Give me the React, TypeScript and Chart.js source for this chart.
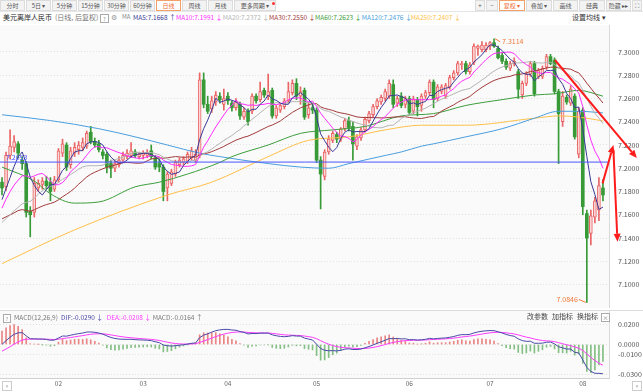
import React, { useEffect, useRef } from 'react';
import { Chart, registerables } from 'chart.js';
Chart.register(...registerables);

// ---------- DATA ----------
const opens = [7.188,7.184,7.211,7.218,7.221,7.207,7.204,7.163,7.162,7.183,7.186,7.189,7.188,7.182,
7.190,7.213,7.220,7.203,7.213,7.216,7.218,7.219,7.231,7.223,7.221,7.214,7.212,7.204,7.200,7.203,7.207,7.210,7.211,7.214,7.210,
7.211,7.211,7.215,7.209,7.204,7.201,7.183,7.187,7.195,7.203,7.205,7.206,7.209,7.207,7.211,7.276,7.255,7.251,7.257,7.262,7.255,
7.262,7.256,7.252,7.255,7.244,7.249,7.249,7.262,7.259,7.267,7.262,7.267,7.245,7.250,7.253,7.258,7.265,7.273,7.262,7.267,7.246,7.252,
7.250,7.207,7.193,7.214,7.224,7.229,7.225,7.234,7.241,7.236,7.219,7.226,7.233,7.241,7.246,7.253,7.257,7.260,7.262,7.272,7.256,7.262,7.255,
7.260,7.249,7.259,7.254,7.262,7.265,7.274,7.260,7.266,7.262,7.270,7.278,7.282,7.289,7.290,7.283,7.291,7.303,7.302,7.302,
7.305,7.308,7.303,7.297,7.292,7.286,7.290,7.283,7.263,7.273,7.281,7.290,7.279,7.279,7.287,7.296,7.293,7.266,7.240,7.261,7.256,7.262,7.212,
7.250,7.161,7.144,7.158,7.164,7.183];
const highs = [7.192,7.214,7.233,7.228,7.223,7.210,7.206,7.167,7.192,7.190,7.192,7.193,7.192,7.193,
7.217,7.225,7.222,7.218,7.222,7.223,7.226,7.232,7.236,7.226,7.224,7.216,7.214,7.207,7.206,7.210,7.214,7.216,7.222,7.216,7.214,
7.215,7.216,7.220,7.211,7.208,7.203,7.197,7.199,7.207,7.209,7.210,7.214,7.218,7.216,7.282,7.282,7.262,7.262,7.266,7.265,7.268,
7.265,7.258,7.260,7.257,7.252,7.251,7.264,7.264,7.274,7.269,7.281,7.269,7.254,7.256,7.260,7.274,7.276,7.277,7.270,7.269,7.256,7.255,
7.252,7.210,7.216,7.228,7.232,7.231,7.235,7.243,7.244,7.240,7.229,7.235,7.244,7.249,7.255,7.260,7.263,7.268,7.276,7.276,7.262,7.265,7.262,
7.262,7.262,7.261,7.264,7.267,7.276,7.276,7.272,7.272,7.273,7.280,7.284,7.292,7.292,7.292,7.291,7.307,7.306,7.309,7.308,
7.309,7.3114,7.305,7.299,7.294,7.292,7.295,7.285,7.275,7.283,7.292,7.292,7.286,7.288,7.298,7.298,7.295,7.268,7.266,7.263,7.271,7.264,7.252,
7.252,7.164,7.164,7.175,7.192,7.190];
const lows = [7.177,7.181,7.208,7.214,7.209,7.199,7.158,7.141,7.158,7.180,7.182,7.182,7.172,7.180,
7.188,7.210,7.198,7.200,7.210,7.212,7.215,7.217,7.221,7.218,7.214,7.208,7.196,7.192,7.197,7.201,7.205,7.208,7.209,7.209,7.208,
7.208,7.209,7.208,7.199,7.197,7.172,7.172,7.185,7.193,7.201,7.203,7.204,7.207,7.205,7.209,7.252,7.247,7.248,7.254,7.256,7.250,
7.255,7.249,7.250,7.242,7.242,7.237,7.247,7.256,7.257,7.261,7.259,7.243,7.243,7.248,7.251,7.256,7.263,7.259,7.255,7.242,7.243,7.247,
7.205,7.165,7.190,7.212,7.222,7.222,7.223,7.232,7.232,7.207,7.216,7.224,7.231,7.239,7.244,7.251,7.255,7.258,7.260,7.252,7.253,7.252,7.252,
7.246,7.247,7.245,7.249,7.260,7.263,7.252,7.258,7.264,7.260,7.268,7.276,7.280,7.285,7.281,7.281,7.289,7.297,7.300,7.300,
7.302,7.304,7.294,7.290,7.285,7.284,7.288,7.260,7.260,7.271,7.279,7.262,7.277,7.277,7.285,7.289,7.264,7.204,7.236,7.255,7.254,7.225,7.209,
7.160,7.0846,7.134,7.153,7.155,7.172];
const closes = [7.183,7.211,7.219,7.223,7.213,7.204,7.162,7.160,7.187,7.187,7.189,7.185,7.180,7.190,
7.215,7.221,7.201,7.215,7.218,7.220,7.222,7.230,7.223,7.220,7.216,7.211,7.201,7.200,7.204,7.207,7.211,7.213,7.215,7.211,7.212,
7.213,7.213,7.210,7.201,7.201,7.180,7.195,7.197,7.205,7.207,7.208,7.212,7.215,7.212,7.276,7.255,7.249,7.258,7.263,7.259,7.260,
7.258,7.252,7.257,7.245,7.249,7.240,7.262,7.258,7.266,7.263,7.266,7.245,7.252,7.254,7.258,7.266,7.273,7.262,7.266,7.244,7.252,7.250,
7.207,7.195,7.214,7.225,7.230,7.225,7.234,7.241,7.235,7.221,7.227,7.233,7.242,7.247,7.253,7.258,7.261,7.266,7.273,7.255,7.260,7.254,7.260,
7.248,7.259,7.253,7.262,7.265,7.274,7.259,7.270,7.270,7.271,7.278,7.282,7.290,7.290,7.283,7.289,7.305,7.305,7.306,7.306,
7.308,7.305,7.295,7.292,7.287,7.290,7.292,7.268,7.273,7.281,7.290,7.264,7.284,7.286,7.296,7.290,7.266,7.247,7.262,7.257,7.268,7.227,7.249,
7.167,7.140,7.159,7.172,7.185,7.177];
// closes before the window (warm-up for moving averages and MACD)
const priorCloses = [7.338,7.325,7.300,7.291,7.293,7.291,7.293,7.298,7.297,7.254,7.257,7.262,7.210,7.175,7.151,7.165,7.155,7.147,7.140,7.128,7.108,7.135,
7.145,7.158,7.170,7.170,7.155,7.178,7.185,7.180,7.150,7.135,7.145,7.145,7.153,7.155,7.153,7.145,7.135,7.143,7.132,7.118,7.132,
7.133,7.155,7.167,7.170,7.167,7.163,7.172,7.175,7.172];
const ma60Points = [[0,7.201],[8,7.189],[12,7.178],[18,7.170],[24,7.171],[33,7.184],[39,7.188],[46,7.195],[54,7.205],[57,7.210],[66,7.220],[74,7.230],[82,7.233],[90,7.236],[99,7.245],[107,7.247],[115,7.254],[124,7.259],[132,7.263],[137,7.264],[143,7.267],[149,7.262]];
const ma120Points = [[0,7.246],[12,7.241],[24,7.234],[33,7.227],[41,7.220],[49,7.213],[54,7.210],[66,7.204],[74,7.201],[81,7.200],[86,7.204],[95,7.211],[99,7.214],[104,7.219],[107,7.221],[115,7.227],[124,7.234],[132,7.243],[138,7.249],[143,7.249],[149,7.2476]];
const ma250Points = [[0,7.118],[18,7.147],[41,7.177],[52,7.188],[66,7.210],[76,7.224],[86,7.227],[95,7.233],[104,7.237],[115,7.237],[132,7.243],[138,7.245],[143,7.244],[149,7.2407]];
const monthTickIndex = [14, 35, 56, 78, 101, 121, 144];
const monthTickLabels = ['02', '03', '04', '05', '06', '07', '08'];
const priceTicks = [7.1, 7.12, 7.14, 7.16, 7.18, 7.2, 7.22, 7.24, 7.26, 7.28, 7.3];
const macdTicks = [0.02, 0, -0.01, -0.03];
const refLevel = 7.2053;
const maNames = ['MA5', 'MA10', 'MA20', 'MA30', 'MA60', 'MA120', 'MA250'];
const maHeaderValues = ['7.1668', '7.1991', '7.2372', '7.2550', '7.2623', '7.2476', '7.2407'];
const maArrows = ['↑', '↓', '↓', '↓', '↓', '↓', '↓'];
const macdHeader = [['DIF', '-0.0290', '↓'], ['DEA', '-0.0208', '↓'], ['MACD', '-0.0164', '↑']];
// hand-drawn arrows, in (candle index, price) coordinates
const arrowFrom = [[137.1, 7.2931], [148.9, 7.1870], [151.6, 7.2157]];
const arrowTo = [[157.4, 7.2088], [151.6, 7.2200], [152.6, 7.1368]];
const tabs = ['分时', '5日 ▾', '5分钟', '15分钟', '30分钟', '60分钟', '日线', '周线', '月线', '更多周期 ▾'];
const rightButtons = ['+', '−', '复权 ▾', '叠加 ▾', '画线', '经典', '隐藏 ▸▸', '⛶'];

// ---------- STYLE ----------
const FONT = '"Noto Sans CJK SC", "Noto Sans", sans-serif';
const maColors = ['#3a3a96', '#ff2cff', '#b4b4b4', '#a33a3a', '#3d9e3d', '#4a9fe0', '#ffc04a'];
const UP_FILL = '#fbd6d6';
const UP_LINE = '#e96464';
const DOWN = '#379a37';
const AXIS_W = 34;
const N_SLOTS = closes.length + 1;

const full = [...priorCloses, ...closes];
const P = priorCloses.length;
function movingAvg(n: number) {
  return closes.map((_, i) => {
    const end = P + i;
    let s = 0;
    for (let k = end - n + 1; k <= end; k++) s += full[k];
    return { x: i, y: s / n };
  });
}
function macdSeries() {
  let e12 = full[0], e26 = full[0];
  const dif: number[] = [];
  full.forEach((c, k) => {
    if (k > 0) { e12 += (c - e12) * 2 / 13; e26 += (c - e26) * 2 / 27; }
    dif.push(e12 - e26);
  });
  let d = dif[0];
  const dea: number[] = [];
  dif.forEach((v, k) => { if (k > 0) d += (v - d) * 2 / 10; dea.push(d); });
  const difW = dif.slice(P), deaW = dea.slice(P);
  return { dif: difW, dea: deaW, hist: difW.map((v, i) => 2 * (v - deaW[i])) };
}

const fixAxis = (s: any) => { s.width = AXIS_W; s.paddingTop = 0; s.paddingBottom = 0; };

const bgPlugin = {
  id: 'plotBg',
  beforeDraw(chart: any) {
    const { ctx, chartArea: a } = chart;
    ctx.save();
    ctx.fillStyle = '#fafafa';
    ctx.fillRect(a.left, a.top, a.right - a.left, a.bottom - a.top);
    ctx.restore();
  },
};

function drawArrow(ctx: CanvasRenderingContext2D, x1: number, y1: number, x2: number, y2: number) {
  const ang = Math.atan2(y2 - y1, x2 - x1);
  const L = 8, Wd = 3.5;
  const bx = x2 - L * Math.cos(ang), by = y2 - L * Math.sin(ang);
  ctx.beginPath();
  ctx.moveTo(x1, y1);
  ctx.lineTo(bx, by);
  ctx.stroke();
  ctx.beginPath();
  ctx.moveTo(x2, y2);
  ctx.lineTo(bx + Wd * Math.sin(ang), by - Wd * Math.cos(ang));
  ctx.lineTo(bx - Wd * Math.sin(ang), by + Wd * Math.cos(ang));
  ctx.closePath();
  ctx.fill();
}

const annotPlugin = {
  id: 'annot',
  afterDraw(chart: any) {
    const { ctx, chartArea: a } = chart;
    const x = chart.scales.x, y = chart.scales.y;
    ctx.save();
    // reference level label
    ctx.font = `7px ${FONT}`;
    ctx.fillStyle = '#4a55ff';
    ctx.textBaseline = 'bottom';
    ctx.textAlign = 'left';
    ctx.fillText(refLevel.toFixed(4), a.left + 6, y.getPixelForValue(refLevel) - 1);
    // highest / lowest markers
    let hi = 0, lo = 0;
    highs.forEach((h, i) => { if (h > highs[hi]) hi = i; });
    lows.forEach((l, i) => { if (l < lows[lo]) lo = i; });
    ctx.strokeStyle = '#f07a3a';
    ctx.fillStyle = '#f07a3a';
    ctx.lineWidth = 1;
    ctx.textBaseline = 'middle';
    const hx = x.getPixelForValue(hi), hy = y.getPixelForValue(highs[hi]);
    ctx.beginPath(); ctx.moveTo(hx + 1, hy); ctx.lineTo(hx + 6, hy + 3); ctx.stroke();
    ctx.fillText(highs[hi].toFixed(4), hx + 8, hy + 3);
    const lx = x.getPixelForValue(lo), ly = y.getPixelForValue(lows[lo]);
    ctx.beginPath(); ctx.moveTo(lx - 1, ly); ctx.lineTo(lx - 8, ly - 3); ctx.stroke();
    ctx.textAlign = 'right';
    ctx.fillText(lows[lo].toFixed(4), lx - 9, ly - 3);
    // red arrows
    ctx.strokeStyle = '#ff1c1c';
    ctx.fillStyle = '#ff1c1c';
    ctx.lineWidth = 2;
    arrowFrom.forEach((f, k) => {
      const t = arrowTo[k];
      drawArrow(ctx, x.getPixelForValue(f[0]), y.getPixelForValue(f[1]), x.getPixelForValue(t[0]), y.getPixelForValue(t[1]));
    });
    ctx.restore();
  },
};

export default function App() {
  const mainRef = useRef<HTMLCanvasElement>(null);
  const macdRef = useRef<HTMLCanvasElement>(null);

  useEffect(() => {
    const isUp = closes.map((c, i) => c >= opens[i]);
    const lineDs = (label: string, data: any[], color: string, smooth: boolean) => ({
      type: 'line', label, data, borderColor: color, borderWidth: 1, pointRadius: 0,
      fill: false, order: 1, cubicInterpolationMode: smooth ? 'monotone' : 'default', tension: 0,
    });
    const toPts = (arr: number[][]) => arr.map(p => ({ x: p[0], y: p[1] }));
    const xCommon = { type: 'linear', min: -0.5, max: N_SLOTS - 0.5, offset: false };

    const main = new Chart(mainRef.current as HTMLCanvasElement, {
      type: 'bar',
      data: {
        datasets: [
          lineDs('MA5', movingAvg(5), maColors[0], false),
          lineDs('MA10', movingAvg(10), maColors[1], false),
          lineDs('MA20', movingAvg(20), maColors[2], false),
          lineDs('MA30', movingAvg(30), maColors[3], false),
          lineDs('MA60', toPts(ma60Points), maColors[4], true),
          lineDs('MA120', toPts(ma120Points), maColors[5], true),
          lineDs('MA250', toPts(ma250Points), maColors[6], true),
          { type: 'line', label: 'ref', data: [{ x: -0.5, y: refLevel }, { x: N_SLOTS - 0.5, y: refLevel }], borderColor: '#4a55ff', borderWidth: 1, pointRadius: 0, order: 0 },
          {
            type: 'bar', label: 'body', data: closes.map((c, i) => ({ x: i, y: [opens[i], c] })),
            backgroundColor: isUp.map(u => (u ? UP_FILL : DOWN)),
            borderColor: isUp.map(u => (u ? UP_LINE : DOWN)),
            borderWidth: isUp.map(u => (u ? 1 : 0)),
            borderSkipped: false, barThickness: 3, grouped: false, order: 2,
          },
          {
            type: 'bar', label: 'wick', data: closes.map((_, i) => ({ x: i, y: [lows[i], highs[i]] })),
            backgroundColor: isUp.map(u => (u ? UP_LINE : DOWN)),
            borderWidth: 0, barThickness: 1, grouped: false, order: 3,
          },
        ] as any,
      },
      options: {
        responsive: false, animation: false, events: [],
        layout: { padding: 0 },
        plugins: { legend: { display: false }, tooltip: { enabled: false } },
        scales: {
          x: { ...xCommon, display: false } as any,
          y: {
            position: 'right', min: 7.0798, max: 7.3232,
            afterBuildTicks: (s: any) => { s.ticks = priceTicks.map(v => ({ value: v })); },
            afterFit: fixAxis,
            grid: { color: '#e2e2e2', drawTicks: false },
            border: { display: true, color: '#dadada', dash: [1, 2] },
            ticks: { padding: 9, color: '#555', font: { family: FONT, size: 7 }, callback: (v: any) => Number(v).toFixed(4) },
          } as any,
        },
      },
      plugins: [bgPlugin, annotPlugin],
    });

    const m = macdSeries();
    const macd = new Chart(macdRef.current as HTMLCanvasElement, {
      type: 'bar',
      data: {
        datasets: [
          { type: 'line', label: 'DIF', data: m.dif.map((v, i) => ({ x: i, y: v })), borderColor: '#4a4aa8', borderWidth: 1, pointRadius: 0, order: 1 },
          { type: 'line', label: 'DEA', data: m.dea.map((v, i) => ({ x: i, y: v })), borderColor: '#ff3cff', borderWidth: 1, pointRadius: 0, order: 1 },
          {
            type: 'bar', label: 'MACD', data: m.hist.map((v, i) => ({ x: i, y: v })),
            backgroundColor: m.hist.map(v => (v >= 0 ? 'rgba(232,110,110,0.85)' : 'rgba(110,180,110,0.85)')),
            barThickness: 1, grouped: false, order: 2,
          },
        ] as any,
      },
      options: {
        responsive: false, animation: false, events: [],
        layout: { padding: 0 },
        plugins: { legend: { display: false }, tooltip: { enabled: false } },
        scales: {
          x: {
            ...xCommon,
            afterBuildTicks: (s: any) => { s.ticks = monthTickIndex.map(v => ({ value: v })); },
            afterFit: (s: any) => { s.height = 14; s.paddingLeft = 0; s.paddingRight = 0; },
            grid: { display: false, drawTicks: false },
            border: { display: true, color: '#d0d0d0' },
            ticks: { padding: 2, autoSkip: false, maxRotation: 0, color: '#666', font: { family: FONT, size: 6.5 },
              callback: (v: any) => monthTickLabels[monthTickIndex.indexOf(Number(v))] },
          } as any,
          y: {
            position: 'right', min: -0.0335, max: 0.0345,
            afterBuildTicks: (s: any) => { s.ticks = macdTicks.map(v => ({ value: v })); },
            afterFit: fixAxis,
            grid: { color: '#e2e2e2', drawTicks: false },
            border: { display: true, color: '#dadada', dash: [1, 2] },
            ticks: { padding: 9, color: '#555', font: { family: FONT, size: 7 }, callback: (v: any) => Number(v).toFixed(4) },
          } as any,
        },
      },
      plugins: [bgPlugin],
    });

    return () => { main.destroy(); macd.destroy(); };
  }, []);

  const tabStyle = (active: boolean, left: number, width: number): React.CSSProperties => ({
    position: 'absolute', left, top: 0, width: width - 1, height: 11, boxSizing: 'border-box',
    border: `1px solid ${active ? '#f2a06a' : '#dcdcdc'}`, background: active ? '#fff' : '#f3f3f3',
    color: active ? '#f0692a' : '#555', fontSize: 6, lineHeight: '9px', textAlign: 'center', whiteSpace: 'nowrap',
  });
  const rbLefts = [475, 486, 499, 526, 553, 579, 606, 632];
  const rbWidths = [11, 13, 27, 27, 26, 27, 26, 11];
  const maLefts = [133, 176, 222.7, 269, 315, 361.7, 410.7];
  const macdLefts = [61, 106.7, 152.7];
  const macdColors = ['#4a4aa8', '#ff3cff', '#777'];
  const txt = (left: number, top: number, color: string, size: number, s: string, extra?: React.CSSProperties) => (
    <div style={{ position: 'absolute', left, top, color, fontSize: size, lineHeight: `${size + 2}px`, whiteSpace: 'nowrap', ...extra }}>{s}</div>
  );

  return (
    <div style={{ position: 'absolute', left: 0, top: 0, width: 643, height: 392, background: '#fff', overflow: 'hidden', fontFamily: FONT }}>
      {/* toolbar */}
      <div style={{ position: 'absolute', left: 0, top: 11, width: 643, height: 1, background: '#e6e6e6' }} />
      {tabs.map((t, i) => (
        <div key={t} style={tabStyle(i === 6, i * 26, i === tabs.length - 1 ? 43 : 26)}>{t}</div>
      ))}
      <div style={{ position: 'absolute', left: 272, top: 2, width: 3, height: 3, borderRadius: 2, background: '#f33' }} />
      {rightButtons.map((t, i) => (
        <div key={t} style={tabStyle(i === 2, rbLefts[i], rbWidths[i])}>{t}</div>
      ))}
      {/* info row */}
      {txt(3, 13, '#222', 7, '美元离岸人民币')}
      {txt(55, 13, '#777', 7, '(日线, 后复权)')}
      <div style={{ position: 'absolute', left: 100, top: 14, width: 7, height: 7, border: '1px solid #aaa', fontSize: 5, lineHeight: '7px', textAlign: 'center', color: '#888' }}>?</div>
      {txt(111, 13, '#999', 7, '⚙')}
      {txt(122, 13, '#888', 6, 'MA')}
      {maNames.map((n, i) => (
        <div key={n} style={{ position: 'absolute', left: maLefts[i], top: 13, color: maColors[i === 2 ? 2 : i], fontSize: 6.5, lineHeight: '9px', whiteSpace: 'nowrap' }}>
          {`${n}:${maHeaderValues[i]}`} <span style={{ fontSize: 7 }}>{maArrows[i]}</span>
        </div>
      ))}
      {txt(572, 13, '#333', 7, '设置均线 ▾')}
      {/* left scroll marker */}
      <div style={{ position: 'absolute', left: 0, top: 40, width: 2, height: 38, background: '#f0883e' }} />
      <canvas ref={mainRef} width={643} height={283} style={{ position: 'absolute', left: 0, top: 25 }} />
      <canvas ref={macdRef} width={643} height={82} style={{ position: 'absolute', left: 0, top: 310 }} />
      {/* macd header */}
      <div style={{ position: 'absolute', left: 0, top: 310, width: 643, height: 1, background: '#dcdcdc' }} />
      <div style={{ position: 'absolute', left: 3, top: 314, width: 6, height: 7, border: '1px solid #aaa', fontSize: 5, lineHeight: '7px', textAlign: 'center', color: '#888', background: '#fff' }}>?</div>
      {txt(14, 313, '#777', 6.5, 'MACD(12,26,9)')}
      {macdHeader.map((h, i) => (
        <div key={h[0]} style={{ position: 'absolute', left: macdLefts[i], top: 313, color: macdColors[i], fontSize: 6.5, lineHeight: '9px', whiteSpace: 'nowrap' }}>
          {`${h[0]}:${h[1]}`} <span style={{ fontSize: 7 }}>{h[2]}</span>
        </div>
      ))}
      {txt(527, 312, '#444', 7, '改参数')}
      {txt(552, 312, '#444', 7, '加指标')}
      {txt(577, 312, '#444', 7, '换指标')}
      <div style={{ position: 'absolute', left: 601, top: 313, width: 7, height: 7, border: '1px solid #aaa', fontSize: 6, lineHeight: '7px', textAlign: 'center', color: '#777', background: '#fff' }}>×</div>
      <div style={{ position: 'absolute', left: 2, top: 381, width: 8, height: 8, border: '1px solid #ccc', fontSize: 6, lineHeight: '8px', textAlign: 'center', color: '#999' }}>«</div>
      <div style={{ position: 'absolute', left: 632, top: 381, width: 8, height: 8, border: '1px solid #ccc', fontSize: 6, lineHeight: '8px', textAlign: 'center', color: '#999' }}>»</div>
    </div>
  );
}
